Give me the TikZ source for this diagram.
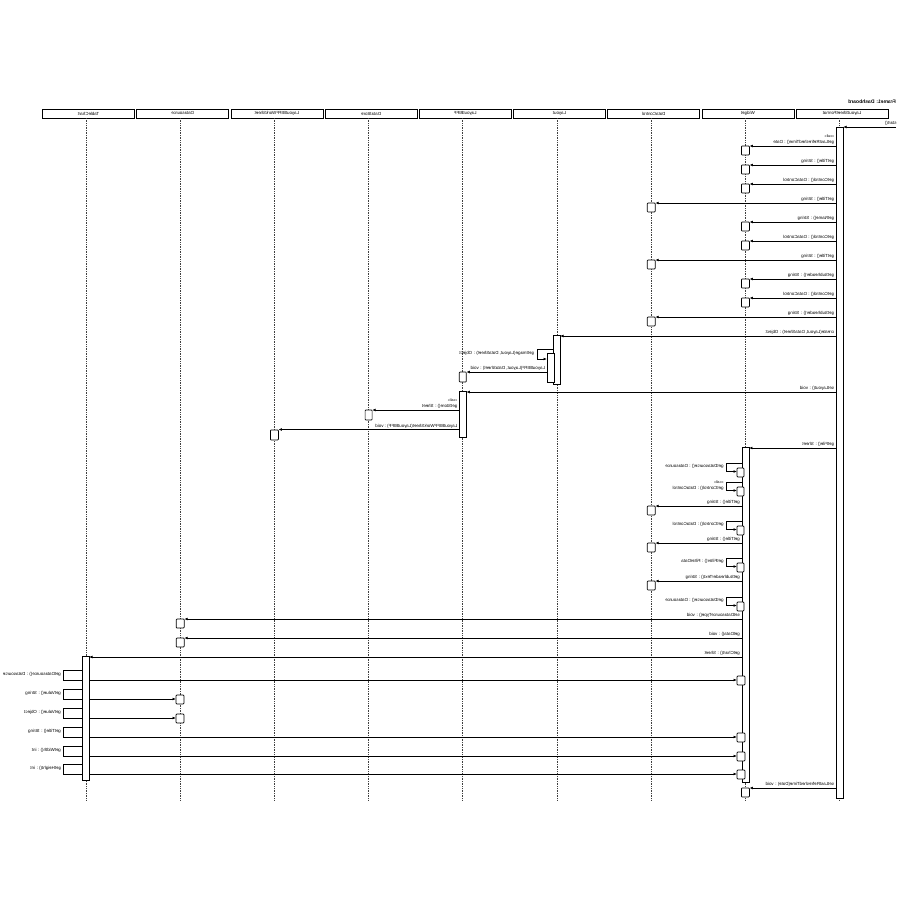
\documentclass[tikz,border=0pt]{standalone}
\usepackage{fontspec}
\setmainfont{Liberation Sans}
\usepackage{graphicx}
\usetikzlibrary{arrows.meta}
\newcommand\lblfont{\fontsize{4.4}{4.8}\selectfont}
\newcommand\stfont{\fontsize{3.6}{4}\selectfont}
\tikzset{
  bar/.style={draw, fill=white, line width=0.8pt, inner sep=0, outer sep=0, minimum width=7pt},
  sbox/.style={draw, fill=white, line width=0.7pt, inner sep=0, outer sep=0, minimum width=8pt, minimum height=9pt, rounded corners=0.8pt},
  msg/.style={-{Latex[length=3.5pt,width=2.8pt]}, line width=0.75pt},
  loopline/.style={line width=0.75pt},
  lbl/.style={font=\lblfont, inner sep=0.3pt, anchor=south east},
  life/.style={densely dotted, line width=0.7pt, black!75},
  head/.style={draw, line width=0.7pt, minimum width=92pt, minimum height=9pt, inner sep=0, font=\lblfont}
}
% bar: name, x, ytop, ybot
\newcommand\mkbar[4]{\node[bar, minimum height={(#4-#3)*1pt}] (#1) at (#2,{(#3+#4)/2}) {};}
% message to a small box: box name, sender, lifeline x, y, label
\newcommand\rmsg[5]{%
  \node[sbox] (#1) at (#3,{#4+4.5}) {};
  \draw[msg] (#2.west |- 0,#4) -- (#1.east |- 0,#4);
  \node[lbl, xshift=-1.5pt, yshift=0.8pt] at (#2.west |- 0,#4) {\reflectbox{#5}};
}
% self call on the Widget bar: box name, y, label
\newcommand\smsg[3]{%
  \node[sbox, minimum width=7pt] (#1) at (740.5,{#2+9.5}) {};
  \draw[msg] (W.west |- 0,#2) -- (726,#2) -- (726,{#2+8.5}) -- (#1.west |- 0,{#2+8.5});
  \node[lbl, anchor=east] at (724,{#2+3.5}) {\reflectbox{#3}};
}
% TableChart outgoing: box name, ytop, box centre x, label
\newcommand\tmsg[4]{%
  \node[sbox] (#1) at (#3,{#2+10.5}) {};
  \draw[loopline] (TC.west |- 0,#2) -- (63,#2) -- (63,{#2+10}) -- (TC.west |- 0,{#2+10});
  \draw[msg] (TC.east |- 0,{#2+10}) -- (#1.west |- 0,{#2+10});
  \node[lbl, anchor=east] at (61.5,{#2+4.5}) {\reflectbox{#4}};
}
\begin{document}
\begin{tikzpicture}[x=1pt, y=-1pt]
\useasboundingbox[fill=white] (0,0) rectangle (900,900);
% title
\node[font=\fontsize{5}{5}\selectfont\bfseries, anchor=east, inner sep=0] (title) at (896,102) {\reflectbox{Frame1: Dashboard}};
% headers and lifelines
\foreach \i/\n in {0/TableChart,1/Datasource,2/LayoutBIFFWorkSheet,3/DataStore,4/LayoutBIFF,5/Layout,6/DataControl,7/Widget,8/LayoutSheetFormat}{
  \pgfmathsetmacro\lx{86+94.2*\i}
  \node[head] (h\i) at ({\lx+2.5},113.5) {\reflectbox{\n}};
  \draw[life] (\lx,118) -- (\lx,800);
}
% activation bars
\mkbar{R}{839.6}{127}{798}
\mkbar{LY}{556.5}{335}{384}
\mkbar{LB}{462.8}{391}{437}
\mkbar{W}{745.4}{447}{782}
\mkbar{TC}{85.5}{656}{780}
% start
\coordinate (st) at (896,127);
\draw[msg] (st) -- (R.east |- st);
\node[lbl] at (897,125.5) {\reflectbox{start()}};
% first block
\rmsg{a1}{R}{745.4}{146}{\shortstack[l]{\stfont «call»\\getLastRefreshedTime() : Date}}
\rmsg{a2}{R}{745.4}{165}{getTitle() : String}
\rmsg{a3}{R}{745.4}{184}{getControl() : DataControl}
\rmsg{a4}{R}{651.2}{203}{getTitle() : String}
\rmsg{a5}{R}{745.4}{222}{getName() : String}
\rmsg{a6}{R}{745.4}{241}{getControl() : DataControl}
\rmsg{a7}{R}{651.2}{260}{getTitle() : String}
\rmsg{a8}{R}{745.4}{279}{getSubheader() : String}
\rmsg{a9}{R}{745.4}{298}{getControl() : DataControl}
\rmsg{a10}{R}{651.2}{317}{getSubheader() : String}
% layout
\draw[msg] (R.west |- 0,336) -- (LY.east |- 0,336);
\node[lbl, xshift=-1.5pt, yshift=0.8pt] at (R.west |- 0,336) {\reflectbox{create(Layout, DataSheet) : Object}};
\mkbar{LYN}{550.5}{353}{382}
\draw[msg] (LY.west |- 0,349) -- (537,349) -- (537,359) -- (LYN.west |- 0,359);
\node[lbl, anchor=east] at (534.5,353) {\reflectbox{getImage(Layout, DataSheet) : Object}};
\node[sbox, minimum width=7pt, minimum height=10pt] (lb0) at (462.8,377) {};
\draw[msg] (LYN.west |- 0,372) -- (lb0.east |- 0,372);
\node[lbl, xshift=-1.5pt, yshift=0.8pt] at (LYN.west |- 0,372) {\reflectbox{LayoutBIFF(Layout, DataSheet) : void}};
\draw[msg] (R.west |- 0,392) -- (LB.east |- 0,392);
\node[lbl, xshift=-1.5pt, yshift=0.8pt] at (R.west |- 0,392) {\reflectbox{setLayout() : void}};
\node[sbox, minimum width=7pt, minimum height=10pt] (ds0) at (368.6,415) {};
\draw[msg] (LB.west |- 0,410) -- (ds0.east |- 0,410);
\node[lbl, xshift=-1.5pt, yshift=0.8pt] at (LB.west |- 0,410) {\reflectbox{\shortstack[l]{\stfont «call»\\getStore() : Sheet}}};
\node[sbox, minimum width=8pt, minimum height=10pt] (ws0) at (274.4,435) {};
\draw[msg] (LB.west |- 0,429.5) -- (ws0.east |- 0,429.5);
\node[lbl, xshift=-1.5pt, yshift=0.8pt] at (LB.west |- 0,429.5) {\reflectbox{LayoutBIFFWorkSheet(LayoutBIFF) : void}};
% widget block
\draw[msg] (R.west |- 0,448) -- (W.east |- 0,448);
\node[lbl, xshift=-1.5pt, yshift=0.8pt] at (R.west |- 0,448) {\reflectbox{getFile() : Sheet}};
\smsg{b1}{463}{getDatasource() : Datasource}
\smsg{b2}{482}{\shortstack[l]{\stfont «call»\\getControl() : DataControl}}
\rmsg{b3}{W}{651.2}{506}{getTitle() : String}
\smsg{b4}{521}{getControl() : DataControl}
\rmsg{b5}{W}{651.2}{543}{getTitle() : String}
\smsg{b6}{558}{getFilter() : FilterData}
\rmsg{b7}{W}{651.2}{581}{getSubheaderText() : String}
\smsg{b8}{597}{getDatasource() : Datasource}
\rmsg{b9}{W}{180.2}{619}{setDatasourceType() : void}
\rmsg{b10}{W}{180.2}{638}{getData() : void}
\draw[msg] (W.west |- 0,657) -- (TC.east |- 0,657);
\node[lbl, xshift=-1.5pt, yshift=0.8pt] at (W.west |- 0,657) {\reflectbox{getChart() : Sheet}};
% table chart block
\tmsg{c1}{670}{741}{getDatasource() : Datasource}
\tmsg{c2}{689}{180}{getValue() : String}
\tmsg{c3}{708}{180}{getValue() : Object}
\tmsg{c4}{727}{741}{getTitle() : String}
\tmsg{c5}{746}{741}{getWidth() : int}
\tmsg{c6}{764}{741}{getHeight() : int}
% final
\rmsg{d1}{R}{745.4}{788}{setLastRefreshedTime(Date) : void}
\end{tikzpicture}
\end{document}
